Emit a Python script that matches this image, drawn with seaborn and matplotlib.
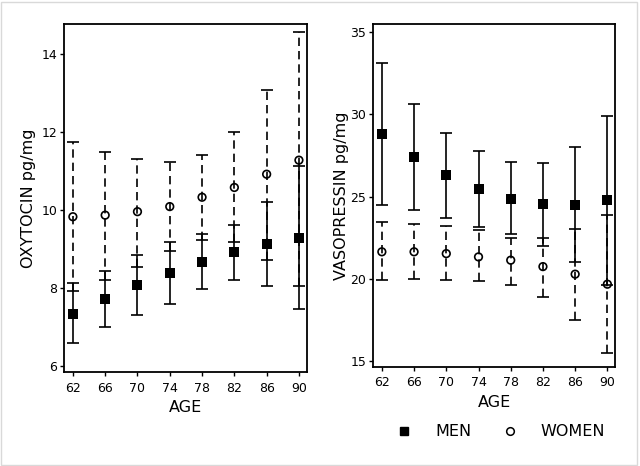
import numpy as np
import pandas as pd
import matplotlib
matplotlib.use("Agg")
import matplotlib.pyplot as plt
from matplotlib.lines import Line2D
import seaborn as sns

sns.set_style("ticks", {"axes.edgecolor": "black", "text.color": "black",
                        "axes.labelcolor": "black", "xtick.color": "black",
                        "ytick.color": "black"})
plt.rcParams["font.family"] = ["DejaVu Sans"]

# ----------------------------------------------------------------------------
# data (mean and CI bounds per age group)
# ----------------------------------------------------------------------------
age = [62, 66, 70, 74, 78, 82, 86, 90]

oxy_men_mean = [7.34, 7.72, 8.09, 8.38, 8.67, 8.92, 9.13, 9.29]
oxy_men_lo = [6.60, 7.01, 7.30, 7.60, 7.97, 8.22, 8.05, 7.46]
oxy_men_hi = [8.12, 8.43, 8.85, 9.17, 9.39, 9.62, 10.20, 11.13]

oxy_wom_mean = [9.83, 9.87, 9.96, 10.09, 10.33, 10.58, 10.92, 11.28]
oxy_wom_lo = [7.92, 8.21, 8.55, 8.96, 9.23, 9.17, 8.72, 8.05]
oxy_wom_hi = [11.74, 11.48, 11.30, 11.23, 11.41, 11.99, 13.09, 14.56]

vas_men_mean = [28.80, 27.41, 26.34, 25.47, 24.86, 24.57, 24.48, 24.78]
vas_men_lo = [24.50, 24.17, 23.69, 23.14, 22.71, 22.02, 21.03, 19.60]
vas_men_hi = [33.15, 30.66, 28.89, 27.80, 27.13, 27.03, 28.04, 29.89]

vas_wom_mean = [21.64, 21.64, 21.53, 21.33, 21.13, 20.74, 20.28, 19.67]
vas_wom_lo = [19.91, 19.97, 19.91, 19.89, 19.65, 18.86, 17.48, 15.47]
vas_wom_hi = [23.44, 23.32, 23.24, 22.97, 22.51, 22.51, 23.02, 23.90]


def make_df(mean, lo, hi, sex):
    return pd.DataFrame({"AGE": age, "mean": mean, "lo": lo, "hi": hi, "sex": sex})


oxy = pd.concat([make_df(oxy_wom_mean, oxy_wom_lo, oxy_wom_hi, "WOMEN"),
                 make_df(oxy_men_mean, oxy_men_lo, oxy_men_hi, "MEN")])
vas = pd.concat([make_df(vas_wom_mean, vas_wom_lo, vas_wom_hi, "WOMEN"),
                 make_df(vas_men_mean, vas_men_lo, vas_men_hi, "MEN")])

fig = plt.figure(figsize=(6.4, 4.66), dpi=100)
ax1 = fig.add_axes([0.100, 0.2017, 0.3797, 0.7468])
ax2 = fig.add_axes([0.5828, 0.2131, 0.3788, 0.7354])

dash = {"MEN": "-", "WOMEN": (0, (5, 3))}


def draw(ax, df, ylabel, ylim, yticks, ypad):
    for sex in ["WOMEN", "MEN"]:
        d = df[df["sex"] == sex]
        err = [d["mean"] - d["lo"], d["hi"] - d["mean"]]
        eb = ax.errorbar(d["AGE"], d["mean"], yerr=err, fmt="none",
                         ecolor="black", elinewidth=1.2, capsize=4.5,
                         capthick=1.2, zorder=2)
        eb[2][0].set_linestyle(dash[sex])
        if sex == "MEN":
            sns.scatterplot(x=d["AGE"], y=d["mean"], ax=ax, marker="s",
                            s=46, color="black", edgecolor="black",
                            linewidth=0, zorder=3)
        else:
            sns.scatterplot(x=d["AGE"], y=d["mean"], ax=ax, marker="o",
                            s=30, facecolor="none", edgecolor="black",
                            linewidth=1.2, zorder=3)
    ax.set_xlim(60.9, 91.0)
    ax.set_ylim(*ylim)
    ax.set_xticks(age)
    ax.set_yticks(yticks)
    ax.tick_params(labelsize=9, length=3, width=1, colors="black")
    ax.tick_params(axis="x", pad=4)
    ax.tick_params(axis="y", pad=2)
    ax.set_xlabel("AGE", fontsize=11.5, labelpad=4, color="black")
    ax.set_ylabel(ylabel, fontsize=11.5, labelpad=ypad, color="black")
    for s in ax.spines.values():
        s.set_linewidth(1.3)
        s.set_color("black")
        s.set_visible(True)


draw(ax1, oxy, "OXYTOCIN pg/mg", (5.85, 14.77), [6, 8, 10, 12, 14], 4)
draw(ax2, vas, "VASOPRESSIN pg/mg", (14.65, 35.5), [15, 20, 25, 30, 35], 1)

handles = [
    Line2D([], [], ls="none", marker="s", ms=6, color="black"),
    Line2D([], [], ls="none", marker="o", ms=5.5, mfc="white", mec="black", mew=1.1),
]
fig.legend(handles, ["MEN", "WOMEN"], ncol=2, frameon=False, fontsize=11.5,
           loc="center left", bbox_to_anchor=(396 / 640, 1 - 432 / 466),
           handlelength=1, handletextpad=1.45, columnspacing=1.9,
           borderpad=0, borderaxespad=0, labelcolor="black")

fig.patches.append(plt.Rectangle((0.002, 0.002), 0.994, 0.994,
                                 transform=fig.transFigure, fill=False,
                                 edgecolor="#d9d9d9", linewidth=1))

fig.savefig("out.png", dpi=100)
